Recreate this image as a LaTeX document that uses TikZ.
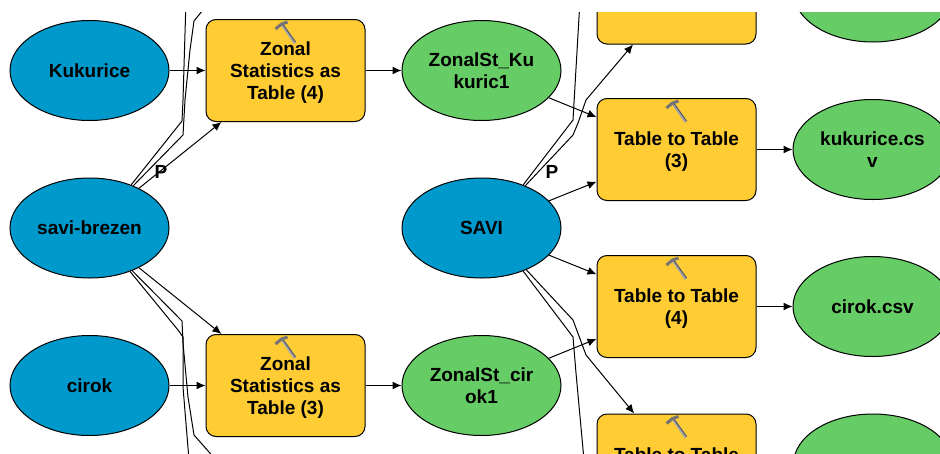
\documentclass[tikz,border=0pt]{standalone}
\usepackage{fontspec}
\setmainfont{Liberation Sans}
\usepackage{xcolor}
\usetikzlibrary{arrows.meta, shapes.geometric}
\definecolor{inputblue}{RGB}{0,153,204}
\definecolor{toolyellow}{RGB}{255,204,51}
\definecolor{outputgreen}{RGB}{102,204,102}
\newcommand{\toolname}[1]{\bfseries\fontsize{19}{22}\selectfont #1}
\newcommand{\toolrows}[1]{\raisebox{-3pt}[\height][\depth]{\begin{tabular}{@{}c@{}}#1\end{tabular}}}
\newcommand{\hammer}[1]{
	\begin{scope}[shift={(#1.north)}, -]
		\draw[line width=3pt, black!35] (-3,6) -- (9.5,24);
		\draw[line width=1pt, black!65] (-3,5) -- (10,23);
		\draw[line width=3pt, black!55] (-10,10) -- (-4,5) -- (2,3);
	\end{scope}
}

\begin{document}
\begin{tikzpicture}[
				x=1pt, y=-1pt,
				->,
				>={Latex[length=9pt, width=8pt]},
				line width=1pt,
				node distance=196pt,
				input/.style={draw, ellipse, fill=inputblue, minimum width=159pt, minimum height=100pt, inner sep=0pt, align=center, font=\toolname{}},
				output/.style={input, fill=outputgreen},
				tool/.style={draw, rectangle, rounded corners=10pt, fill=toolyellow, minimum width=159pt, minimum height=102pt, inner sep=0pt, font=\toolname{}},
				plabel/.style={inner sep=0pt, font=\toolname{}}]
				
			\useasboundingbox (0,0) rectangle (940,453);
			\clip (0,12) rectangle (940,453);
			
			\node[input] (kukurice) at (89.5,70.5) {Kukurice};
			\node[input, below of=kukurice, node distance=157.5pt] (savibrezen) {savi-brezen};
			\node[input, below of=savibrezen, node distance=157.5pt] (cirok) {cirok};
			
			\node[tool, right of=kukurice] (zonalfour) {\toolrows{Zonal\\Statistics as\\Table (4)}};
			\node[tool, right of=cirok] (zonalthree) {\toolrows{Zonal\\Statistics as\\Table (3)}};
			
			\node[output, right of=zonalfour] (zonalkukurice) {ZonalSt\_Ku\\kuric1};
			\node[input, right of=savibrezen, node distance=392pt] (savi) {SAVI};
			\node[output, right of=zonalthree] (zonalcirok) {ZonalSt\_cir\\ok1};
			
			\node[tool] (tabletop) at (676.5,-7) {};
			\node[tool] (tablethree) at (676.5,149.5) {\toolrows{Table to Table\\(3)}};
			\node[tool] (tablefour) at (676.5,306.5) {\toolrows{Table to Table\\(4)}};
			\node[tool] (tablelow) at (676.5,465) {\toolrows{Table to Table\\~}};
			
			\node[output] (csvtop) at (873,-8) {};
			\node[output, right of=tablethree] (kukuricecsv) {kukurice.cs\\v};
			\node[output, right of=tablefour] (cirokcsv) {cirok.csv};
			\node[output] (csvlow) at (873,464) {};
			
			\node[plabel] (pleft) at (161,172) {P};
			\node[plabel] (pright) at (552,172) {P};
			
			\hammer{zonalfour}
			\hammer{zonalthree}
			\hammer{tablethree}
			\hammer{tablefour}
			\hammer{tablelow}
			
			\coordinate (exitone) at (186,0);
			\coordinate (exittwo) at (211,0);
			\coordinate (exitthree) at (189,460);
			\coordinate (exitfour) at (216,460);
			\coordinate (exitfive) at (580,0);
			\coordinate (exitsix) at (584,460);
			
			\draw	(kukurice) -- (zonalfour);
			\draw	(cirok) -- (zonalthree);
			\draw	(savibrezen) -- (zonalfour);
			\draw	(savibrezen) -- (zonalthree);
			\draw	(zonalfour) -- (zonalkukurice);
			\draw	(zonalthree) -- (zonalcirok);
			
			\draw	(zonalkukurice) -- (tablethree);
			\draw	(savi) -- (tablethree);
			\draw	(savi) -- (tablefour);
			\draw	(zonalcirok) -- (tablefour);
			\draw	(tablethree) -- (kukuricecsv);
			\draw	(tablefour) -- (cirokcsv);
			
			\draw[-]	(savi.46) -- (573,120) -- (exitfive);
			\draw	(savi.44) -- (573,135) -- (578,123) -- (586,100) -- (tabletop);
			\draw[-]	(savi.-46) -- (573,337) -- (576,373) -- (exitsix);
			\draw	(savi.-43) -- (573,320) -- (586,355) -- (tablelow);
			
			\draw[-]	(savibrezen.46) -- (182,121) -- (183,100) -- (exitone);
			\draw[-]	(savibrezen.44) -- (183,135) -- (185,100) -- (190,50) -- (194,21) -- (exittwo);
			\draw[-]	(savibrezen.-47) -- (178,330) -- (183,337) -- (183,387) -- (exitthree);
			\draw[-]	(savibrezen.-45) -- (182,321) -- (183,343) -- (188,397) -- (194,435) -- (exitfour);
		\end{tikzpicture}
\end{document}
